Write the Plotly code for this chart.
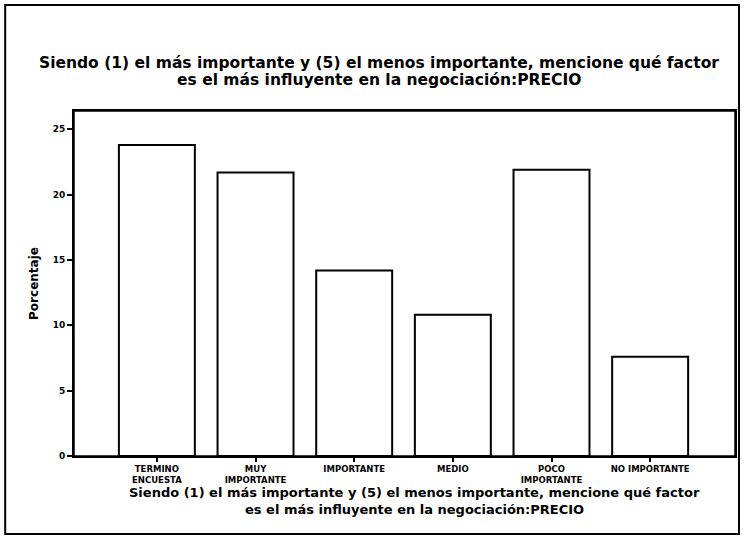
import plotly.graph_objects as go

categories = ["TERMINO<br>ENCUESTA", "MUY<br>IMPORTANTE", "IMPORTANTE", "MEDIO",
              "POCO<br>IMPORTANTE", "NO IMPORTANTE"]
percentages = [23.8, 21.7, 14.2, 10.8, 21.9, 7.6]
y_ticks = [0, 5, 10, 15, 20, 25]

title_line1 = "Siendo (1) el más importante y (5) el menos importante, mencione qué factor"
title_line2 = "es el más influyente en la negociación:PRECIO"

W, H = 747, 538
L, R, T, B = 74, 10, 111, 82
pw, ph = W - L - R, H - T - B


def px_x(x):
    return (x - L) / pw


def px_y(y):
    return (H - B - y) / ph


font_fam = "DejaVu Sans, Liberation Sans, Arial, sans-serif"

fig = go.Figure()
fig.add_trace(go.Bar(
    x=categories, y=percentages,
    marker=dict(color="white", line=dict(color="black", width=2)),
    width=0.77,
))

fig.update_layout(
    width=W, height=H,
    margin=dict(l=L, r=R, t=T, b=B),
    paper_bgcolor="white", plot_bgcolor="white",
    showlegend=False,
    font=dict(family=font_fam, color="black"),
)
fig.update_xaxes(
    range=[-0.84, 5.86], showline=True, linecolor="black", linewidth=2, mirror=True,
    ticks="outside", ticklen=4, tickwidth=1.5, tickcolor="black",
    tickfont=dict(size=8.5, weight="bold"), showgrid=False,
)
fig.update_yaxes(
    range=[0, 26.4], tickvals=y_ticks, showline=True, linecolor="black", linewidth=2,
    mirror=True, ticks="outside", ticklen=5, tickwidth=1.5, tickcolor="black",
    tickfont=dict(size=9, weight="bold"), showgrid=False, zeroline=False,
    title=dict(text="Porcentaje", font=dict(size=12, weight="bold"), standoff=11),
)

# top title (two lines)
for txt, yy in [(title_line1, 63), (title_line2, 80)]:
    fig.add_annotation(
        text=txt, xref="paper", yref="paper", x=px_x(380), y=px_y(yy),
        xanchor="center", yanchor="middle", showarrow=False,
        font=dict(size=15.5, weight="bold", family=font_fam),
    )
# bottom (x axis) title (two lines)
for txt, yy in [(title_line1, 493), (title_line2, 509)]:
    fig.add_annotation(
        text=txt, xref="paper", yref="paper", x=px_x(416), y=px_y(yy),
        xanchor="center", yanchor="middle", showarrow=False,
        font=dict(size=13, weight="bold", family=font_fam),
    )

# plot-area box and outer frame
fig.add_shape(type="rect", xref="paper", yref="paper", x0=0, x1=1, y0=0, y1=1,
              line=dict(color="black", width=1.5), layer="above")
fig.add_shape(type="rect", xref="paper", yref="paper",
              x0=px_x(5), x1=px_x(741), y0=px_y(534), y1=px_y(5),
              line=dict(color="black", width=2), layer="below")

fig.write_html("out.html", config={"displayModeBar": False},
               post_script="document.body.style.margin='0';document.body.style.overflow='hidden';")
